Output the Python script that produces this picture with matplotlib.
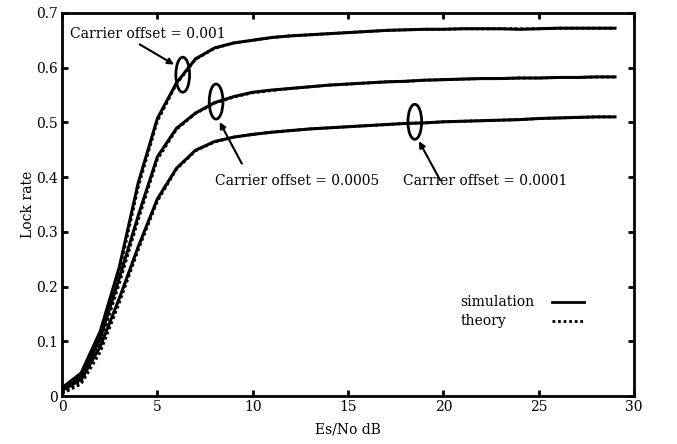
import matplotlib
matplotlib.use('Agg')
import matplotlib.pyplot as plt
from matplotlib.patches import Ellipse

# Es/No en dB
snr = list(range(0, 30))

# simulation : offset 0.001, 0.0005, 0.0001
sim_001 = [0.015, 0.042, 0.118, 0.235, 0.390, 0.507, 0.572, 0.616, 0.636, 0.645,
           0.650, 0.655, 0.658, 0.660, 0.662, 0.664, 0.666, 0.668, 0.669, 0.670,
           0.670, 0.671, 0.671, 0.671, 0.670, 0.671, 0.672, 0.672, 0.672, 0.672]
sim_0005 = [0.012, 0.035, 0.105, 0.215, 0.330, 0.437, 0.489, 0.517, 0.536, 0.547,
            0.555, 0.559, 0.562, 0.565, 0.568, 0.570, 0.572, 0.574, 0.575, 0.577,
            0.578, 0.579, 0.580, 0.580, 0.581, 0.581, 0.582, 0.582, 0.583, 0.583]
sim_0001 = [0.010, 0.030, 0.090, 0.178, 0.273, 0.360, 0.416, 0.449, 0.465, 0.473,
            0.478, 0.482, 0.485, 0.488, 0.490, 0.492, 0.494, 0.496, 0.498, 0.499,
            0.501, 0.502, 0.503, 0.504, 0.505, 0.507, 0.508, 0.509, 0.510, 0.510]

# théorie
th_001 = [0.008, 0.032, 0.105, 0.225, 0.382, 0.502, 0.570, 0.615, 0.635, 0.645,
          0.650, 0.655, 0.658, 0.660, 0.662, 0.664, 0.666, 0.668, 0.669, 0.670,
          0.670, 0.671, 0.671, 0.671, 0.671, 0.671, 0.672, 0.672, 0.672, 0.672]
th_0005 = [0.006, 0.026, 0.095, 0.205, 0.322, 0.432, 0.487, 0.516, 0.535, 0.546,
           0.554, 0.558, 0.562, 0.565, 0.568, 0.570, 0.572, 0.574, 0.575, 0.577,
           0.578, 0.579, 0.580, 0.580, 0.581, 0.581, 0.582, 0.582, 0.583, 0.583]
th_0001 = [0.004, 0.022, 0.080, 0.170, 0.267, 0.356, 0.414, 0.448, 0.464, 0.473,
           0.478, 0.482, 0.485, 0.488, 0.490, 0.492, 0.494, 0.496, 0.498, 0.499,
           0.501, 0.502, 0.503, 0.504, 0.505, 0.507, 0.508, 0.509, 0.510, 0.510]

plt.rcParams['font.family'] = 'DejaVu Serif'
plt.rcParams['font.size'] = 10

fig = plt.figure(figsize=(6.77, 4.44), dpi=100)
ax = fig.add_axes([0.0916, 0.108, 0.845, 0.863])

for y in [th_001, th_0005, th_0001]:
    ax.plot(snr, y, color='black', lw=2.0, linestyle=(0, (1, 1)))
for y in [sim_001, sim_0005, sim_0001]:
    ax.plot(snr, y, color='black', lw=2.2)

ax.set_xlim(0, 30)
ax.set_ylim(0, 0.7)
ax.set_xticks([0, 5, 10, 15, 20, 25, 30])
ax.set_xticklabels(['0', '5', '10', '15', '20', '25', '30'])
ax.set_yticks([0, 0.1, 0.2, 0.3, 0.4, 0.5, 0.6, 0.7])
ax.set_yticklabels(['0', '0.1', '0.2', '0.3', '0.4', '0.5', '0.6', '0.7'])
ax.tick_params(direction='in', length=4, width=2, top=True, right=True, pad=3)
for s in ax.spines.values():
    s.set_linewidth(2)
ax.set_xlabel('Es/No dB', labelpad=6)
ax.set_ylabel('Lock rate', labelpad=1)

# ellipses + flèches
for (cx, cy) in [(6.33, 0.587), (8.08, 0.538), (18.5, 0.501)]:
    ax.add_patch(Ellipse((cx, cy), 0.72, 0.064, fill=False, lw=2, color='black'))

arrow = dict(arrowstyle='-|>', color='black', lw=1.5, mutation_scale=9)
ax.annotate('', xy=(6.0, 0.603), xytext=(3.95, 0.645), arrowprops=arrow)
ax.annotate('', xy=(8.2, 0.505), xytext=(9.5, 0.42), arrowprops=arrow)
ax.annotate('', xy=(18.65, 0.47), xytext=(19.9, 0.39), arrowprops=arrow)

ax.text(0.4, 0.662, 'Carrier offset = 0.001', va='center', ha='left')
ax.text(8.0, 0.392, 'Carrier offset = 0.0005', va='center', ha='left')
ax.text(17.9, 0.392, 'Carrier offset = 0.0001', va='center', ha='left')

# légende faite à la main
ax.text(20.9, 0.171, 'simulation', va='center', ha='left')
ax.text(20.9, 0.138, 'theory', va='center', ha='left')
ax.plot([25.7, 27.4], [0.171, 0.171], color='black', lw=2)
ax.plot([25.7, 27.4], [0.138, 0.138], color='black', lw=2, linestyle=(0, (1, 1)))

fig.savefig('out.png', dpi=100)
